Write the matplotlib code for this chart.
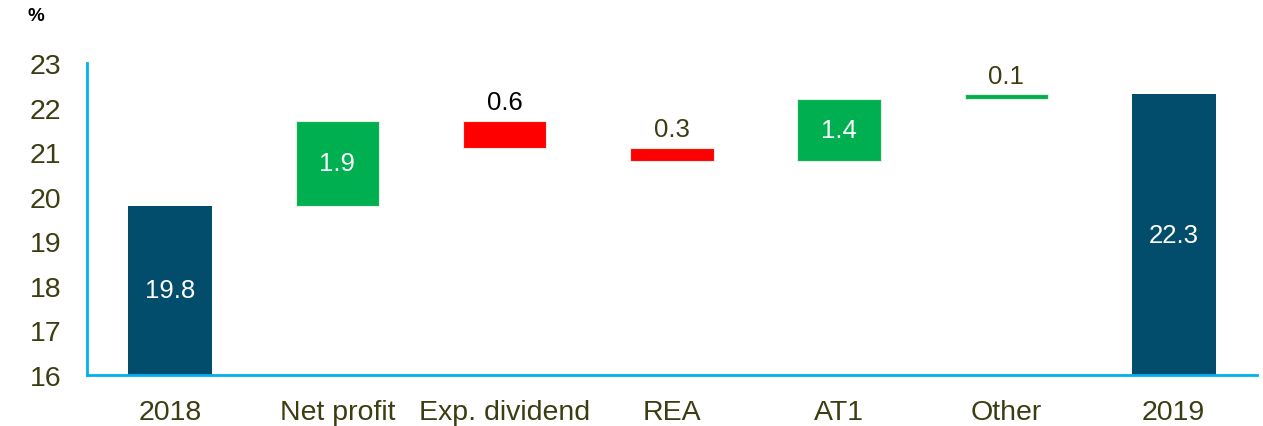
import matplotlib
matplotlib.use("Agg")
import matplotlib.pyplot as plt

plt.rcParams['font.family'] = ['Liberation Sans', 'DejaVu Sans']

categories = ["2018", "Net profit", "Exp. dividend", "REA", "AT1", "Other", "2019"]
start_value = 19.8
changes = [1.9, -0.6, -0.3, 1.4, 0.1]
end_value = 22.3

NAVY = "#034d6c"
GREEN = "#00b050"
RED = "#ff0000"
AXIS_BLUE = "#00b0f0"
TEXT = "#3d3d12"

fig = plt.figure(figsize=(12.63, 4.27), dpi=100)
ax = fig.add_axes([0.0685, 0.1194, 0.927, 0.7307])

width = 0.5
x = list(range(len(categories)))
LABEL_SIZE = 18.5

# opening total
ax.bar(x[0], start_value - 16, bottom=16, width=width, color=NAVY)
ax.text(x[0], (16 + start_value) / 2, f"{start_value:.1f}", ha="center",
        va="center", color="white", fontsize=LABEL_SIZE)

# floating change bars
level = start_value
for i, ch in enumerate(changes, start=1):
    lo, hi = (level, level + ch) if ch >= 0 else (level + ch, level)
    color = GREEN if ch >= 0 else RED
    ax.bar(x[i], hi - lo, bottom=lo, width=width, color=color,
           edgecolor="#e6ece0", linewidth=0.8)
    label = f"{abs(ch):.1f}"
    if hi - lo >= 1.0:
        ax.text(x[i], (lo + hi) / 2, label, ha="center", va="center",
                color="white", fontsize=LABEL_SIZE)
    else:
        ax.text(x[i], hi + 0.15, label, ha="center", va="bottom",
                color="black" if i == 2 else TEXT, fontsize=LABEL_SIZE)
    level += ch

# closing total
ax.bar(x[-1], end_value - 16, bottom=16, width=width, color=NAVY)
ax.text(x[-1], (16 + end_value) / 2, f"{end_value:.1f}", ha="center",
        va="center", color="white", fontsize=LABEL_SIZE)

ax.set_ylim(16, 23)
ax.set_yticks(range(16, 24))
ax.set_xlim(-0.5, len(categories) - 0.5)
ax.set_xticks(x)
ax.set_xticklabels(categories)
ax.tick_params(axis="both", length=0, labelsize=20.5, labelcolor=TEXT)
ax.tick_params(axis="x", pad=17)
ax.tick_params(axis="y", pad=18)

for side in ("top", "right"):
    ax.spines[side].set_visible(False)
for side in ("left", "bottom"):
    ax.spines[side].set_color(AXIS_BLUE)
    ax.spines[side].set_linewidth(2)

fig.text(0.022, 0.962, "%", ha="left", va="center", fontsize=13.5,
         fontweight="bold", color="black")

fig.savefig("out.png", dpi=100)
